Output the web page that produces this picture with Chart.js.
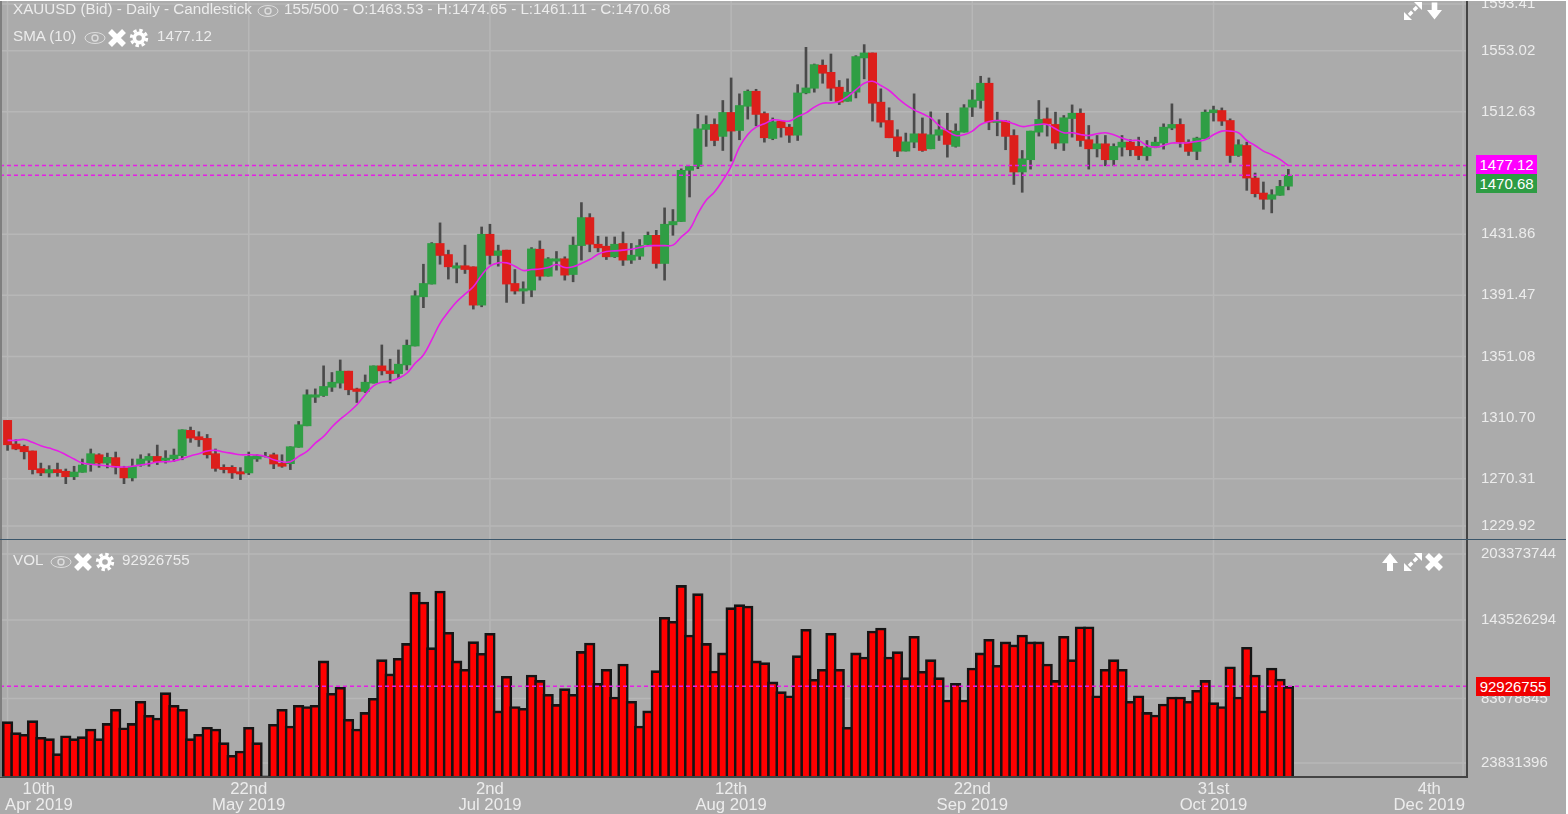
<!DOCTYPE html>
<html>
<head>
<meta charset="utf-8">
<title>XAUUSD Daily</title>
<script src="https://cdn.jsdelivr.net/npm/chart.js@4"></script>
<style>
html, body { margin: 0; padding: 0; background: #fff; overflow: hidden; }
#wrap { position: absolute; left: 0; top: 1px; width: 1566px; height: 813px; background: #ababab; overflow: hidden;
  font-family: "Liberation Sans", Arial, sans-serif; color: #ececec; }
#wrap canvas { position: absolute; left: 0; }
#priceChart { top: 0; }
#volChart { top: 539px; }
.t { position: absolute; font-size: 15.2px; line-height: 18px; white-space: nowrap; }
.tag { position: absolute; left: 1476px; height: 19px; line-height: 19px; text-align: center; color: #fff; font-size: 15px; }
.ic { position: absolute; }
#leftBand { position: absolute; left: 0; top: 0; width: 2px; height: 776px; background: #7f7f7f; }
#divider { position: absolute; left: 0; top: 538px; width: 1566px; height: 1px; background: #3b566a; }
</style>
</head>
<body>
<svg width="0" height="0" style="position:absolute">
  <symbol id="eye" viewBox="0 0 22 14"><ellipse cx="11" cy="7" rx="10" ry="5.5" fill="none" stroke="#dcdcdc" stroke-width="1"/><circle cx="11" cy="7" r="3" fill="none" stroke="#dcdcdc" stroke-width="1.4"/></symbol>
  <symbol id="cross" viewBox="0 0 20 20"><path d="M3 3L17 17M17 3L3 17" stroke="#fff" stroke-width="5.5"/></symbol>
  <symbol id="gear" viewBox="0 0 20 20"><circle cx="10" cy="10" r="6.5" fill="#fff"/><circle cx="10" cy="10" r="7.7" fill="none" stroke="#fff" stroke-width="3" stroke-dasharray="3.4 2.65"/><circle cx="10" cy="10" r="2.8" fill="#ababab"/></symbol>
  <symbol id="down" viewBox="0 0 16 18"><path d="M5 0H11V8H16L8 18L0 8H5Z" fill="#fff"/></symbol>
  <symbol id="up" viewBox="0 0 16 18"><path d="M5 18H11V10H16L8 0L0 10H5Z" fill="#fff"/></symbol>
  <symbol id="expand" viewBox="0 0 18 18"><path d="M18 0H10L18 8ZM0 18H8L0 10Z" fill="#fff"/><path d="M13 5L9.8 8.2M5 13L8.2 9.8" stroke="#fff" stroke-width="3.4"/></symbol>
</svg>
<div id="wrap">
  <canvas id="priceChart" width="1566" height="539"></canvas>
  <canvas id="volChart" width="1566" height="274"></canvas>
  <div id="leftBand"></div>
  <div id="divider"></div>

  <div class="t" style="left:13px;top:-1px">XAUUSD (Bid) - Daily - Candlestick</div>
  <svg class="ic" style="left:257px;top:3px" width="22" height="14"><use href="#eye"/></svg>
  <div class="t" style="left:284px;top:-1px">155/500 - O:1463.53 - H:1474.65 - L:1461.11 - C:1470.68</div>
  <div class="t" style="left:13px;top:26px">SMA (10)</div>
  <svg class="ic" style="left:84px;top:30px" width="22" height="14"><use href="#eye"/></svg>
  <svg class="ic" style="left:107px;top:27px" width="20" height="20"><use href="#cross"/></svg>
  <svg class="ic" style="left:129px;top:27px" width="20" height="20"><use href="#gear"/></svg>
  <div class="t" style="left:157px;top:26px">1477.12</div>

  <div class="t" style="left:13px;top:550px">VOL</div>
  <svg class="ic" style="left:50px;top:554px" width="22" height="14"><use href="#eye"/></svg>
  <svg class="ic" style="left:73px;top:551px" width="20" height="20"><use href="#cross"/></svg>
  <svg class="ic" style="left:95px;top:551px" width="20" height="20"><use href="#gear"/></svg>
  <div class="t" style="left:122px;top:550px">92926755</div>

  <svg class="ic" style="left:1404px;top:1px" width="18" height="18"><use href="#expand"/></svg>
  <svg class="ic" style="left:1427px;top:1px" width="15" height="18"><use href="#down"/></svg>
  <svg class="ic" style="left:1382px;top:552px" width="16" height="18"><use href="#up"/></svg>
  <svg class="ic" style="left:1404px;top:552px" width="18" height="18"><use href="#expand"/></svg>
  <svg class="ic" style="left:1424px;top:551px" width="20" height="20"><use href="#cross"/></svg>

  <div class="tag" style="top:154px;width:61px;background:#ff00ff">1477.12</div>
  <div class="tag" style="top:173px;width:61px;background:#2e9c44">1470.68</div>
  <div class="tag" style="top:676px;width:74px;background:#f00000">92926755</div>
</div>
<script>
// values, one entry per daily candle
var opens = [1308.9,1293.3,1291.7,1288.7,1277.0,1274.2,1276.4,1275.3,1271.7,1274.6,1279.9,1286.2,1280.7,1284.3,1277.5,1270.9,1279.4,1282.5,1285.1,1282.5,1283.6,1285.6,1302.3,1298.1,1297.0,1286.9,1277.9,1277.9,1275.0,1274.2,
  1283.4,1284.9,1286.2,1280.5,1280.3,1291.1,1305.3,1324.2,1325.3,1330.8,1333.5,1341.4,1329.7,1328.0,1333.5,1344.9,1341.6,1339.8,1345.5,1358.0,1390.5,1398.9,1425.7,1418.4,1409.4,1411.0,1410.3,1385.0,1431.8,1417.8,
  1421.3,1399.3,1394.3,1394.9,1421.9,1404.1,1414.0,1415.6,1405.2,1424.3,1442.8,1425.2,1423.9,1416.9,1425.7,1414.7,1417.3,1425.0,1431.1,1412.5,1438.0,1440.2,1474.0,1476.6,1501.0,1504.3,1496.4,1512.2,1500.3,1516.3,
  1526.2,1511.5,1495.0,1506.5,1502.5,1497.2,1525.1,1528.2,1543.4,1538.7,1528.9,1519.6,1525.6,1548.2,1551.5,1519.0,1506.9,1496.1,1486.7,1492.6,1498.1,1488.2,1497.2,1500.3,1489.8,1499.2,1515.7,1520.1,1531.5,1505.6,
  1506.5,1497.0,1472.9,1481.0,1499.2,1508.0,1504.3,1492.0,1508.2,1511.7,1494.2,1488.2,1491.5,1481.0,1489.3,1492.6,1489.8,1483.6,1489.3,1492.0,1501.9,1504.3,1492.6,1486.5,1494.8,1512.0,1513.5,1506.9,1483.8,1490.4,
  1468.9,1459.0,1454.9,1457.5,1463.53];
var closes = [1292.8,1290.0,1288.2,1276.4,1274.2,1276.4,1274.4,1271.7,1274.8,1279.4,1286.9,1280.7,1284.5,1278.1,1270.9,1278.6,1283.4,1285.1,1281.6,1284.0,1286.0,1302.7,1297.2,1296.1,1286.2,1277.2,1276.4,1274.2,1273.5,1285.1,
  1285.6,1285.1,1280.1,1278.6,1291.5,1306.0,1325.8,1325.8,1331.3,1334.1,1341.4,1329.1,1328.0,1334.1,1344.9,1341.6,1339.8,1346.0,1358.5,1391.2,1399.3,1425.7,1417.8,1410.3,1411.0,1408.5,1385.0,1431.8,1417.8,1420.8,
  1398.9,1394.3,1395.8,1422.1,1404.1,1415.6,1415.6,1404.8,1424.6,1442.8,1425.2,1422.8,1416.9,1425.2,1414.7,1418.0,1424.3,1431.1,1412.5,1438.4,1440.2,1474.0,1476.6,1501.4,1504.3,1493.7,1512.2,1499.9,1516.8,1526.2,
  1510.9,1495.5,1506.0,1502.1,1497.2,1525.1,1528.4,1543.8,1538.1,1528.2,1519.0,1525.6,1549.1,1551.5,1518.3,1505.8,1495.5,1486.7,1492.8,1498.1,1487.1,1497.5,1500.8,1491.1,1499.9,1515.3,1520.5,1531.5,1505.8,1506.9,
  1496.4,1472.9,1481.6,1499.9,1507.6,1504.7,1492.0,1508.7,1511.7,1493.7,1488.2,1491.5,1481.0,1489.8,1492.6,1487.6,1483.8,1488.9,1492.6,1502.5,1504.3,1492.6,1486.5,1495.3,1512.4,1513.9,1506.5,1483.8,1490.9,1468.9,
  1458.6,1454.9,1457.9,1463.4,1470.68];
var highs = [1308.9,1296.1,1292.6,1288.7,1280.7,1279.0,1280.7,1276.8,1278.6,1283.4,1290.0,1286.9,1287.3,1288.0,1278.6,1283.4,1286.2,1286.9,1292.6,1288.9,1290.0,1302.7,1304.5,1301.4,1299.6,1290.0,1279.6,1279.0,1277.7,1288.0,
  1286.2,1287.8,1287.3,1286.2,1291.5,1308.2,1329.1,1329.7,1344.9,1340.5,1348.8,1341.4,1330.2,1338.9,1344.9,1358.7,1349.3,1355.4,1362.0,1394.5,1412.0,1426.3,1439.3,1421.3,1412.9,1424.6,1410.3,1436.6,1438.4,1424.6,
  1421.3,1408.5,1400.4,1423.0,1427.4,1416.4,1420.4,1416.9,1430.0,1452.7,1445.4,1430.5,1430.0,1430.0,1433.3,1425.7,1428.3,1433.3,1434.4,1449.2,1448.1,1475.0,1476.6,1510.9,1510.0,1508.0,1520.1,1535.0,1524.5,1527.1,
  1527.5,1512.6,1508.6,1506.9,1504.3,1530.6,1555.2,1544.2,1546.9,1550.8,1533.3,1534.4,1549.7,1557.0,1551.5,1527.8,1515.3,1500.8,1498.6,1524.5,1508.6,1512.6,1507.4,1511.7,1504.7,1517.4,1527.1,1536.1,1535.0,1512.4,
  1506.9,1500.8,1487.1,1499.9,1520.1,1515.2,1512.4,1510.2,1517.2,1514.6,1503.6,1497.0,1497.0,1491.5,1497.0,1494.2,1495.9,1493.7,1495.9,1504.7,1517.9,1508.0,1494.2,1495.9,1513.9,1516.4,1515.2,1508.0,1494.2,1492.6,
  1472.2,1466.3,1461.2,1467.4,1474.65];
var lows = [1289.1,1289.5,1283.4,1273.5,1272.4,1271.5,1272.0,1267.1,1269.8,1274.6,1275.3,1277.9,1277.5,1273.5,1267.1,1268.9,1278.6,1278.6,1279.7,1280.7,1281.8,1282.9,1294.4,1291.7,1284.0,1275.3,1274.2,1270.6,1269.8,1273.1,
  1281.8,1284.7,1277.0,1277.9,1276.4,1291.1,1305.3,1320.7,1324.7,1328.0,1330.2,1325.8,1320.7,1327.3,1333.5,1338.9,1333.5,1336.7,1342.2,1358.0,1383.3,1398.9,1412.0,1402.2,1399.7,1405.9,1382.4,1383.9,1412.0,1410.7,
  1386.8,1392.3,1386.1,1390.5,1401.5,1404.1,1408.1,1401.5,1400.4,1414.7,1420.2,1420.2,1415.1,1416.4,1411.2,1412.5,1415.1,1424.6,1409.4,1401.5,1431.1,1440.2,1456.4,1475.1,1489.8,1490.2,1487.1,1480.1,1494.2,1507.8,
  1503.4,1492.6,1494.2,1495.9,1492.4,1493.7,1524.5,1525.6,1531.5,1520.1,1517.4,1519.6,1521.8,1534.4,1506.5,1502.5,1495.5,1483.0,1486.7,1488.9,1486.5,1488.2,1493.7,1482.7,1489.3,1499.2,1509.5,1515.0,1500.8,1496.8,
  1487.6,1464.7,1459.5,1474.8,1496.6,1496.6,1488.2,1487.1,1495.9,1489.8,1474.8,1482.8,1477.0,1477.0,1483.4,1483.6,1481.0,1480.6,1488.9,1488.0,1500.8,1489.3,1483.8,1481.0,1494.8,1506.5,1503.6,1479.2,1483.2,1460.8,
  1456.4,1448.3,1445.9,1457.5,1461.11];
var sma10 = [1295.7,1295.7,1296.3,1294.4,1292.2,1290.6,1288.9,1286.2,1283.4,1280.7,1279.9,1279.4,1278.8,1278.3,1278.1,1278.6,1279.4,1280.3,1281.4,1281.6,1282.1,1283.6,1285.4,1286.9,1288.7,1289.1,1288.0,1287.1,1286.2,1286.2,
  1286.0,1285.1,1282.9,1281.6,1281.6,1285.1,1288.4,1293.9,1298.3,1304.5,1309.7,1314.1,1319.2,1325.8,1331.7,1334.1,1334.8,1336.7,1340.0,1346.6,1352.1,1362.0,1373.0,1380.6,1387.2,1392.3,1397.1,1404.8,1410.7,1412.9,
  1412.9,1410.7,1407.9,1408.5,1408.8,1409.8,1411.8,1409.8,1410.3,1412.5,1415.1,1418.6,1420.4,1420.8,1421.3,1421.9,1423.0,1424.1,1424.3,1424.3,1424.6,1430.0,1434.9,1445.4,1454.2,1459.7,1467.4,1476.6,1489.3,1497.7,
  1502.5,1504.7,1507.3,1506.9,1506.5,1509.5,1511.9,1515.7,1518.3,1518.5,1519.4,1522.7,1527.1,1531.5,1532.8,1530.0,1526.7,1521.8,1517.4,1513.9,1511.3,1508.6,1503.6,1499.9,1497.0,1497.5,1499.9,1504.3,1506.2,1506.9,
  1506.5,1504.7,1502.9,1503.6,1504.3,1504.3,1501.4,1498.8,1498.8,1497.7,1497.0,1498.1,1498.8,1497.5,1495.3,1493.7,1493.7,1490.4,1489.3,1490.4,1492.0,1492.0,1492.2,1493.1,1494.2,1497.5,1499.9,1499.9,1498.8,1493.7,
  1490.4,1486.7,1484.3,1481.2,1477.12];
// volume in millions
var volumes = [66.0,57.6,56.4,66.8,54.1,53.1,41.6,55.3,53.1,54.6,60.4,53.1,64.7,75.4,61.4,64.7,81.5,70.9,68.8,88.1,78.5,75.4,53.1,56.4,61.7,60.4,50.0,40.4,43.6,61.7,
  50.0,24.8,64.0,75.4,62.7,78.5,77.5,78.5,112.3,87.6,92.2,67.8,60.4,73.1,83.8,113.3,102.4,114.3,125.7,164.6,157.2,122.4,165.6,134.1,112.3,105.9,127.0,118.1,133.4,74.2,
  100.6,77.5,76.2,101.6,97.5,86.9,79.2,91.2,86.9,119.6,126.0,95.2,105.9,84.8,110.0,81.5,62.7,74.2,104.9,145.6,142.5,169.9,132.1,163.6,125.7,104.6,118.4,152.9,155.2,154.2,
  112.3,111.0,96.3,88.9,85.8,116.3,136.4,98.3,105.9,133.4,105.9,61.7,118.4,115.3,135.1,137.4,115.3,119.4,99.6,131.1,104.4,113.3,99.6,82.5,95.2,82.5,106.9,118.4,128.8,109.0,
  126.8,124.5,132.1,126.8,126.8,110.0,97.5,131.1,113.3,138.4,138.4,85.8,105.9,113.3,105.9,81.5,85.8,73.1,71.1,79.5,84.8,84.8,81.5,89.9,97.5,80.5,77.5,107.9,84.8,122.7,
  101.6,74.2,106.9,98.5,92.926755];

var lastSma = 1477.12;
var lastClose = 1470.68;
var lastVolume = 92926755;

var priceTicks = [1593.41, 1553.02, 1512.63, 1431.86, 1391.47, 1351.08, 1310.70, 1270.31, 1229.92];
var volumeTicks = [203373744, 143526294, 83678845, 23831396];
var dateTicks = [0, 29, 58, 87, 116, 145, 175];
var dateDays = ["10th", "22nd", "2nd", "12th", "22nd", "31st", "4th"];
var dateMonths = ["Apr 2019", "May 2019", "Jul 2019", "Aug 2019", "Sep 2019", "Oct 2019", "Dec 2019"];

var X_MIN = -0.91, X_MAX = 175.48;
var GRID = "#b7b7b7", AXIS = "#444", LABEL = "#ececec";
var UP = "#2f9e44", DOWN = "#dc1f1b", MAGENTA = "#e61ee6";

var idx = opens.map((o, i) => i);

function level(value) {
  return [{ x: X_MIN, y: value }, { x: X_MAX, y: value }];
}

function levelDataset(value) {
  return {
    type: "line", data: level(value), borderColor: MAGENTA, borderWidth: 1.5,
    borderDash: [4, 3], pointRadius: 0, order: 0,
  };
}

// the platform pushes labels and their grid lines back inside a panel
function panelPlugin(yTicks, fmt, topPad, bottomPad, withDates) {
  function clampY(scale, v, area) {
    return Math.min(area.bottom - bottomPad, Math.max(area.top + topPad, scale.getPixelForValue(v)));
  }
  return {
    id: "panel",
    beforeDatasetsDraw(chart) {
      var ctx = chart.ctx, area = chart.chartArea;
      ctx.save();
      ctx.strokeStyle = GRID;
      ctx.lineWidth = 1.5;
      yTicks.forEach((v) => {
        var y = clampY(chart.scales.y, v, area);
        ctx.beginPath();
        ctx.moveTo(area.left, y);
        ctx.lineTo(area.right, y);
        ctx.stroke();
      });
      dateTicks.forEach((v) => {
        var x = chart.scales.x.getPixelForValue(v);
        ctx.beginPath();
        ctx.moveTo(x, area.top);
        ctx.lineTo(x, area.bottom);
        ctx.stroke();
      });
      ctx.restore();
    },
    afterDraw(chart) {
      var ctx = chart.ctx, area = chart.chartArea;
      ctx.save();
      ctx.strokeStyle = AXIS;
      ctx.lineWidth = 2;
      ctx.beginPath();
      ctx.moveTo(area.right, 0);
      ctx.lineTo(area.right, area.bottom);
      if (withDates) {
        ctx.lineTo(0, area.bottom);
      }
      ctx.stroke();

      ctx.fillStyle = LABEL;
      ctx.font = '15px "Liberation Sans", Arial, sans-serif';
      ctx.textAlign = "left";
      ctx.textBaseline = "middle";
      yTicks.forEach((v) => {
        ctx.fillText(fmt(v), area.right + 14, clampY(chart.scales.y, v, area));
      });

      if (withDates) {
        ctx.font = '16.7px "Liberation Sans", Arial, sans-serif';
        ctx.textAlign = "center";
        dateTicks.forEach((v, i) => {
          var half = ctx.measureText(dateMonths[i]).width / 2;
          var x = chart.scales.x.getPixelForValue(v);
          x = Math.min(1465 - half, Math.max(5 + half, x));
          ctx.fillText(dateDays[i], x, area.bottom + 12);
          ctx.fillText(dateMonths[i], x, area.bottom + 28);
        });
      }
      ctx.restore();
    },
  };
}

function baseOptions(yMin, yMax, padding) {
  return {
    responsive: false,
    animation: false,
    devicePixelRatio: 1,
    layout: { padding: padding },
    plugins: { legend: { display: false }, tooltip: { enabled: false } },
    scales: {
      x: { type: "linear", min: X_MIN, max: X_MAX, offset: false, display: false },
      y: { min: yMin, max: yMax, display: false },
    },
  };
}

new Chart(document.getElementById("priceChart"), {
  type: "bar",
  data: {
    datasets: [
      {
        data: idx.map((i) => ({ x: i, y: [lows[i], highs[i]] })),
        backgroundColor: "#4a4a4a", barThickness: 2, grouped: false, order: 3,
      },
      {
        data: idx.map((i) => ({ x: i, y: [opens[i], closes[i]] })),
        backgroundColor: idx.map((i) => (closes[i] >= opens[i] ? UP : DOWN)),
        barThickness: 8.3, grouped: false, order: 2,
      },
      {
        type: "line", data: idx.map((i) => ({ x: i, y: sma10[i] })), borderColor: MAGENTA,
        borderWidth: 1.6, pointRadius: 0, tension: 0.4, order: 1,
      },
      levelDataset(lastSma),
      levelDataset(lastClose),
    ],
  },
  options: baseOptions(1229.92, 1585.8, { right: 99, top: 0, left: 0, bottom: 0 }),
  plugins: [panelPlugin(priceTicks, (v) => v.toFixed(2), 3, 14, false)],
});

new Chart(document.getElementById("volChart"), {
  type: "bar",
  data: {
    datasets: [
      {
        data: idx.map((i) => ({ x: i, y: volumes[i] * 1000000 })),
        backgroundColor: "#ff0000", borderColor: "#141414", borderWidth: 2.6,
        barThickness: 10.6, grouped: false, order: 2,
      },
      levelDataset(lastVolume),
    ],
  },
  options: baseOptions(23831396, 204500000, { right: 99, top: 0, left: 0, bottom: 37 }),
  plugins: [panelPlugin(volumeTicks, (v) => String(v), 14, 14, true)],
});
</script>
</body>
</html>
